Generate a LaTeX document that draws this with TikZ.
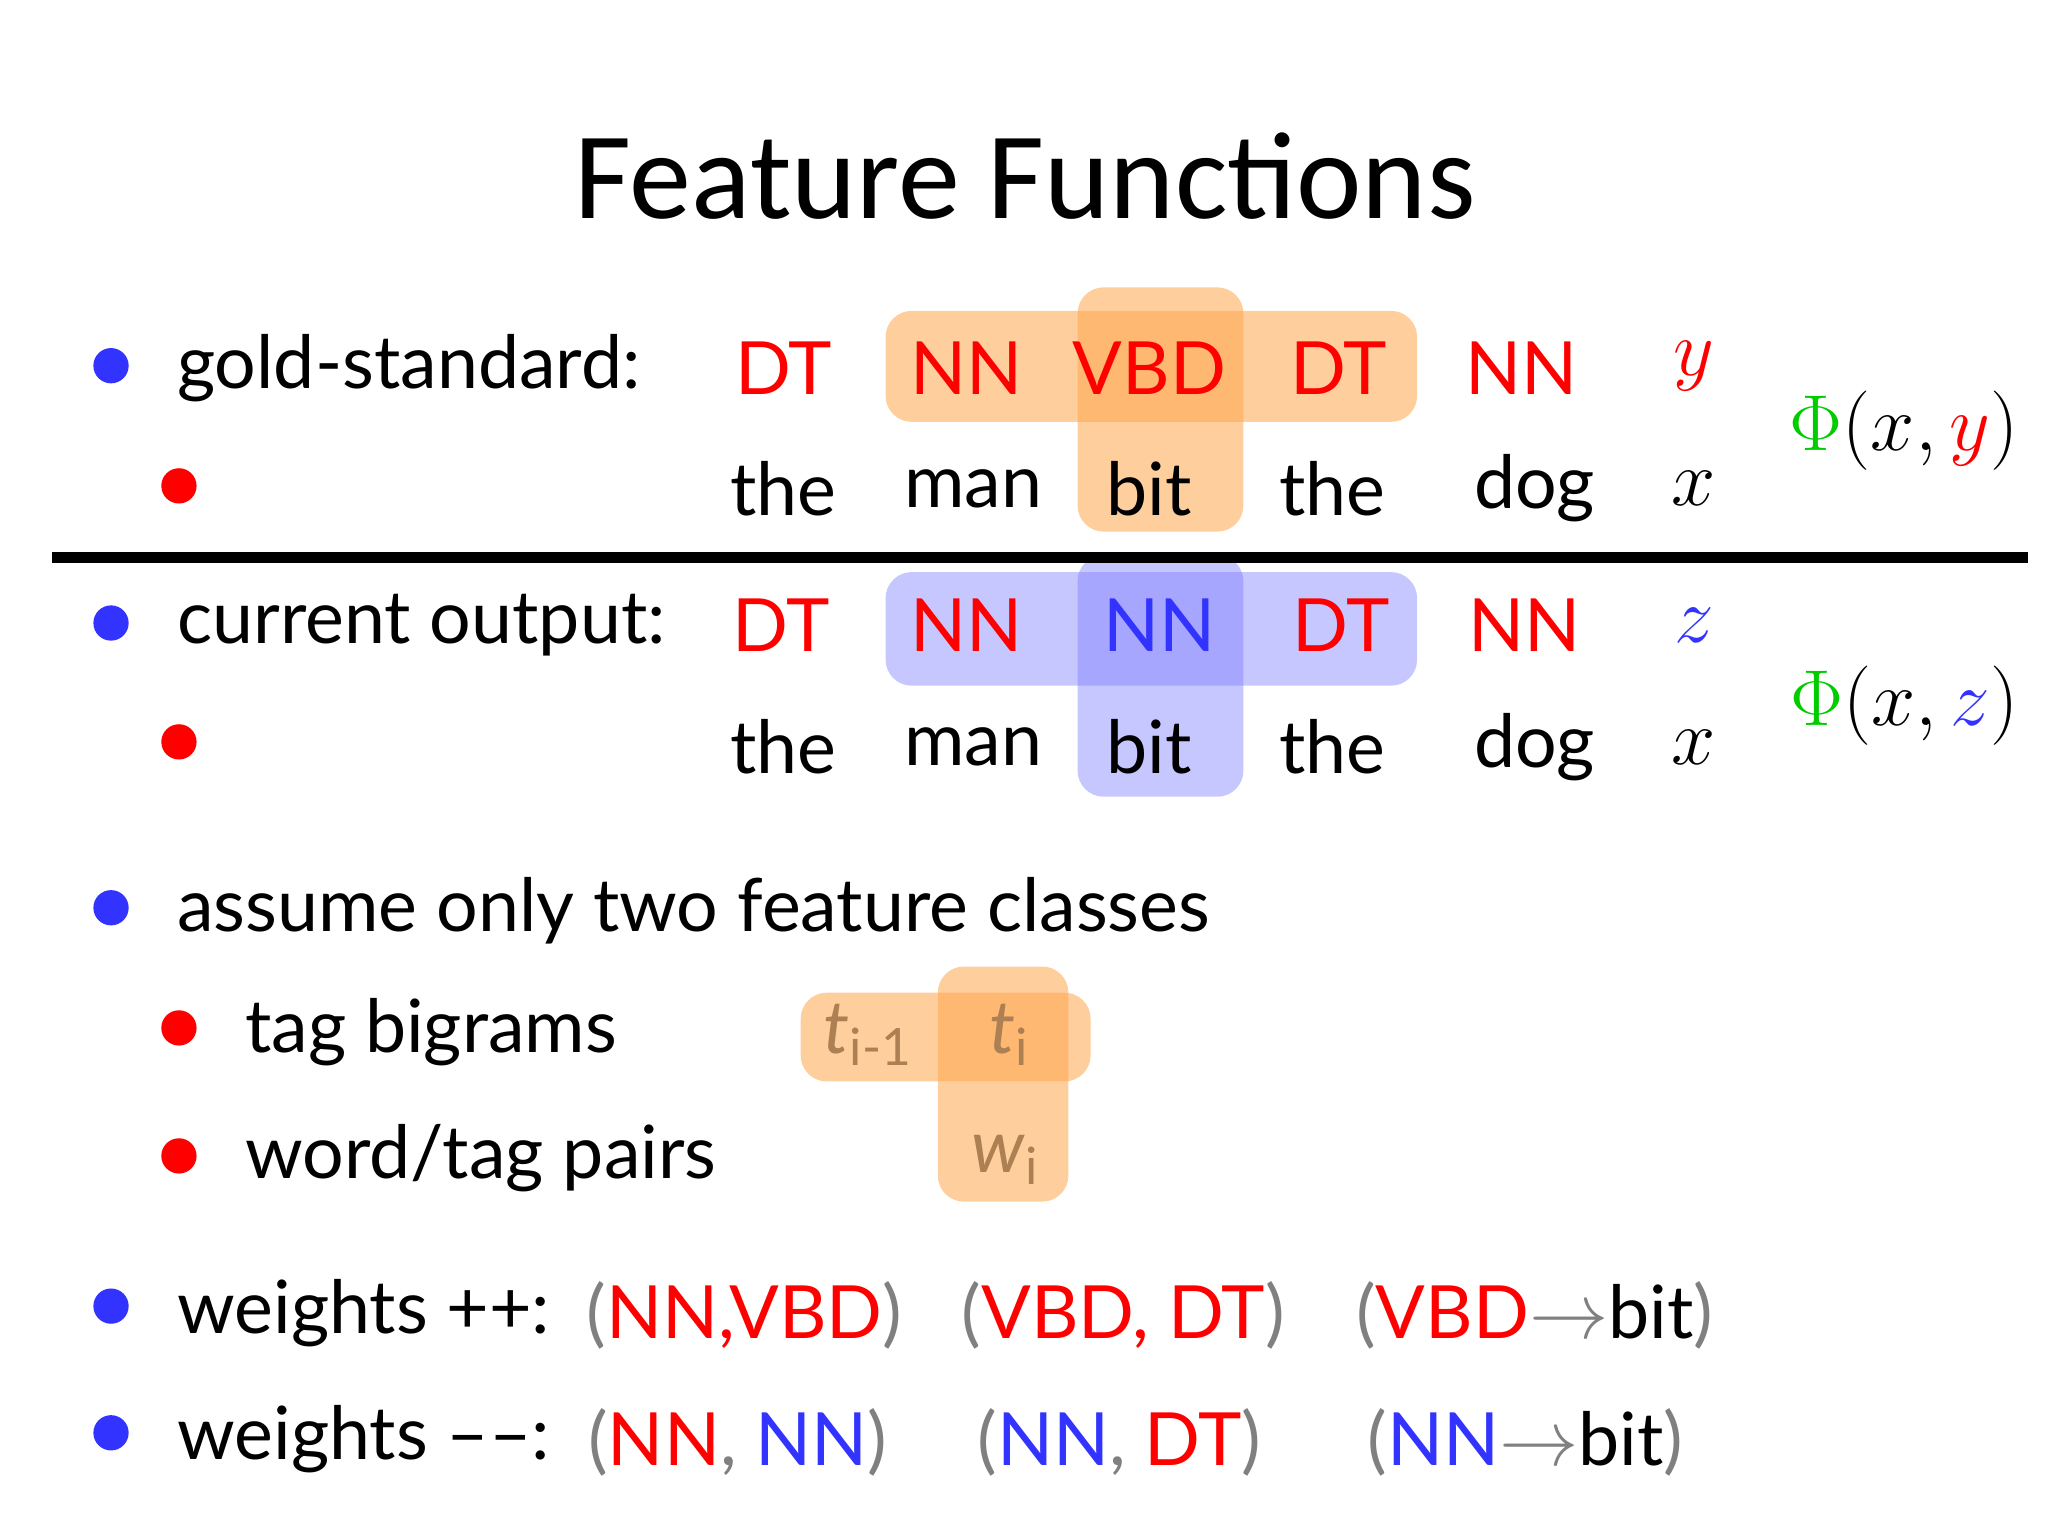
\documentclass[tikz,border=0pt]{standalone}
\usepackage{fontspec}
\setmainfont{Lato}
\newfontfamily\titlefont{Carlito}
\begin{document}
\begin{tikzpicture}[x=0.01cm,y=-0.01cm,
 txt/.style={font=\fontsize{16}{18}\selectfont,inner sep=0pt},
 lbl/.style={txt,anchor=west},
 tag/.style={txt,text=red},
 blt/.style={circle,fill=#1,inner sep=0pt,minimum size=0.27cm},
 org/.style={fill=orange!70,opacity=0.55,rounded corners=0.2cm},
 blu/.style={fill=blue!55,opacity=0.4,rounded corners=0.2cm},
 par/.style={txt,text=gray}]
\useasboundingbox (0,0) rectangle (1568,1176);
\node[font=\titlefont\fontsize{27}{30}\selectfont] (title) at (785,135) {Feature Functions};
% highlights
\fill[org] (678,238) rectangle (1085,323);
\fill[org] (825,220) rectangle (952,407);
\fill[blu] (678,438) rectangle (1085,525);
\fill[blu] (825,425) rectangle (952,610);
\fill[org] (613,760) rectangle (835,828);
\fill[org] (718,740) rectangle (818,920);
% bullets
\foreach \n/\y in {b1/280,b2/477,b3/695,b4/1000,b5/1097} \node[blt=blue!80] (\n) at (85,\y) {};
\foreach \n/\y in {r1/372,r2/568,r3/787,r4/885} \node[blt=red] (\n) at (137,\y) {};
\node[lbl] (l1) at (135,282) {gold-standard:};
\node[lbl] (l2) at (135,479) {current output:};
\node[lbl] (l3) at (135,697) {assume only two feature classes};
\node[lbl] (l4) at (187,790) {tag bigrams};
\node[lbl] (l5) at (187,887) {word/tag pairs};
% row 1
\node[tag] (a1) at (600,282) {DT};
\node[tag] (a2) at (740,282) {NN};
\node[tag] (a3) at (880,282) {VBD};
\node[tag] (a4) at (1025,282) {DT};
\node[tag] (a5) at (1165,282) {NN};
\node[txt,text=red] (ay) at (1297,280) {$y$};
\foreach \n/\x/\w in {w1/600/the,w2/745/man,w3/880/bit,w4/1020/the,w5/1175/dog} \node[txt] (\n) at (\x,374) {\w};
\node[txt] (wx) at (1297,374) {$x$};
\node[txt] (p1) at (1458,330) {\textcolor{green!80!black}{$\Phi$}$(x,\textcolor{red}{y})$};
\draw[line width=2.5pt] (40,427) -- (1553,427);
% row 2
\node[tag] (c1) at (598,479) {DT};
\node[tag] (c2) at (740,479) {NN};
\node[txt,text=blue!80] (c3) at (888,479) {NN};
\node[tag] (c4) at (1027,479) {DT};
\node[tag] (c5) at (1167,479) {NN};
\node[txt,text=blue!80] (cz) at (1297,479) {$z$};
\foreach \n/\x/\w in {v1/600/the,v2/745/man,v3/880/bit,v4/1020/the,v5/1175/dog} \node[txt] (\n) at (\x,572) {\w};
\node[txt] (vx) at (1297,572) {$x$};
\node[txt] (p2) at (1458,540) {\textcolor{green!80!black}{$\Phi$}$(x,\textcolor{blue!80}{z})$};
% feature templates
\node[txt,text=brown!70!gray] (t1) at (665,792) {\textit{t}\textsubscript{i-1}};
\node[txt,text=brown!70!gray] (t2) at (773,792) {\textit{t}\textsubscript{i}};
\node[txt,text=brown!70!gray] (t3) at (770,888) {\textit{w}\textsubscript{i}};
% weights
\node[lbl] (l6) at (135,1005) {weights ++:};
\node[lbl] (l7) at (135,1102) {weights ––:};
\node[par] (f1) at (570,1007) {(\textcolor{red}{NN,VBD})};
\node[par] (f2) at (860,1007) {(\textcolor{red}{VBD, DT})};
\node[par] (f3) at (1175,1007) {(\textcolor{red}{VBD}$\rightarrow$\textcolor{black}{bit})};
\node[par] (g1) at (565,1104) {(\textcolor{red}{NN}, \textcolor{blue!80}{NN})};
\node[par] (g2) at (857,1104) {(\textcolor{blue!80}{NN}, \textcolor{red}{DT})};
\node[par] (g3) at (1168,1104) {(\textcolor{blue!80}{NN}$\rightarrow$\textcolor{black}{bit})};
\end{tikzpicture}
\end{document}
